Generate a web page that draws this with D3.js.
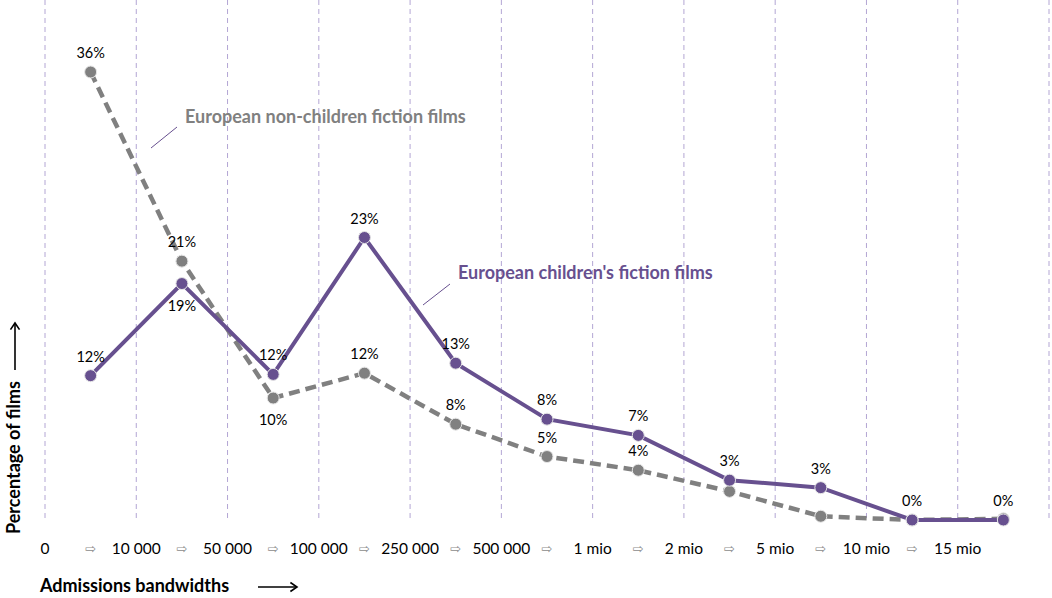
<!DOCTYPE html>
<html>
<head>
  <title>Admissions bandwidths</title>
  <script src="https://d3js.org/d3.v7.min.js"></script>
  <style type="text/css">
    body { margin: 0; background: #fff; }
    svg { font-family: Lato, "Noto Sans", sans-serif; }
  </style>
</head>
<body>
  <div id="chart"></div>
  <script type="text/javascript">
    // data
    var bandwidths = ["0", "10 000", "50 000", "100 000", "250 000", "500 000",
      "1 mio", "2 mio", "5 mio", "10 mio", "15 mio"];
    var childrenFilms = [11.6, 19.0, 11.7, 22.7, 12.6, 8.1, 6.8, 3.2, 2.6, 0.0, 0.0];
    var nonChildrenFilms = [36.0, 20.8, 9.8, 11.8, 7.7, 5.1, 4.0, 2.3, 0.3, 0.0, 0.1];
    var childrenLabels = ["12%", "19%", "12%", "23%", "13%", "8%", "7%", "3%", "3%", "0%", "0%"];
    var nonChildrenLabels = ["36%", "21%", "10%", "12%", "8%", "5%", "4%", "", "", "", ""];

    var purple = "#67508f", grey = "#808080";
    var width = 1052, height = 598;
    var plot = { left: 45, right: 1049, top: 0, bottom: 520 };

    var svg = d3.select("#chart").append("svg")
      .attr("width", width)
      .attr("height", height);

    var idx = d3.range(bandwidths.length);
    var x = d3.scaleBand()
      .domain(idx)
      .range([plot.left, plot.right]);
    var y = d3.scaleLinear()
      .domain([0, 36])
      .range([plot.bottom, 72]);

    // vertical dashed grid lines at every band edge
    var edges = idx.map(function (i) { return x(i); }).concat([x(idx.length - 1) + x.bandwidth()]);
    svg.append("g").selectAll("line")
      .data(edges)
      .enter().append("line")
      .attr("x1", function (d) { return d; })
      .attr("x2", function (d) { return d; })
      .attr("y1", plot.top)
      .attr("y2", plot.bottom + 2)
      .attr("stroke", "#b3a6d4")
      .attr("stroke-width", 1)
      .attr("stroke-dasharray", "5,4");

    // x labels: bandwidth limits at the edges, arrows in between
    svg.append("g").selectAll("text")
      .data(bandwidths)
      .enter().append("text")
      .attr("x", function (d, i) { return x(i); })
      .attr("y", 554)
      .attr("text-anchor", "middle")
      .attr("font-size", 15.5)
      .attr("fill", "#000")
      .text(function (d) { return d; });

    svg.append("g").selectAll("text")
      .data(idx.slice(0, idx.length - 1))
      .enter().append("text")
      .attr("x", function (i) { return x(i) + x.bandwidth() / 2; })
      .attr("y", 553)
      .attr("text-anchor", "middle")
      .attr("font-size", 13)
      .attr("fill", "#8c8c8c")
      .attr("font-family", "DejaVu Sans")
      .text("\u21E8");

    var line = d3.line()
      .x(function (d, i) { return x(i) + x.bandwidth() / 2; })
      .y(function (d) { return y(d); });

    // non-children series (dashed grey)
    svg.append("path")
      .datum(nonChildrenFilms)
      .attr("d", line)
      .attr("fill", "none")
      .attr("stroke", grey)
      .attr("stroke-width", 4.5)
      .attr("stroke-dasharray", "11,6");

    // children series (solid purple)
    svg.append("path")
      .datum(childrenFilms)
      .attr("d", line)
      .attr("fill", "none")
      .attr("stroke", purple)
      .attr("stroke-width", 4);

    function drawMarkers(values, color) {
      svg.append("g").selectAll("circle")
        .data(values)
        .enter().append("circle")
        .attr("cx", function (d, i) { return x(i) + x.bandwidth() / 2; })
        .attr("cy", function (d) { return y(d); })
        .attr("r", 6)
        .attr("fill", color)
        .attr("stroke", "#e6e6e6")
        .attr("stroke-width", 1);
    }
    drawMarkers(nonChildrenFilms, grey);
    drawMarkers(childrenFilms, purple);

    // value labels; a few sit below the point so they don't collide
    var nonBelow = [2];
    var childBelow = [1];
    function drawLabels(values, labels, below) {
      svg.append("g").selectAll("text")
        .data(values)
        .enter().append("text")
        .attr("x", function (d, i) { return x(i) + x.bandwidth() / 2; })
        .attr("y", function (d, i) { return below.indexOf(i) >= 0 ? y(d) + 27 : y(d) - 14; })
        .attr("text-anchor", "middle")
        .attr("font-size", 14.5)
        .attr("fill", "#000")
        .text(function (d, i) { return labels[i]; });
    }
    drawLabels(nonChildrenFilms, nonChildrenLabels, nonBelow);
    drawLabels(childrenFilms, childrenLabels, childBelow);

    // series names with short leader lines
    svg.append("line")
      .attr("x1", 151).attr("y1", 148).attr("x2", 177).attr("y2", 127)
      .attr("stroke", purple).attr("stroke-width", 1);
    svg.append("text")
      .attr("x", 185).attr("y", 123)
      .attr("font-size", 18).attr("font-weight", "bold")
      .attr("fill", grey)
      .text("European non-children fiction films");

    svg.append("line")
      .attr("x1", 423).attr("y1", 305).attr("x2", 450).attr("y2", 284)
      .attr("stroke", purple).attr("stroke-width", 1);
    svg.append("text")
      .attr("x", 458).attr("y", 279)
      .attr("font-size", 18).attr("font-weight", "bold")
      .attr("fill", purple)
      .text("European children's fiction films");

    // axis titles with hand-drawn arrows
    svg.append("text")
      .attr("x", 40).attr("y", 592)
      .attr("font-size", 18).attr("font-weight", "bold")
      .text("Admissions bandwidths");

    function arrow(x1, y1, x2, y2) {
      var g = svg.append("g").attr("stroke", "#000").attr("fill", "none")
        .attr("stroke-width", 1.6);
      g.append("line").attr("x1", x1).attr("y1", y1).attr("x2", x2).attr("y2", y2);
      var a = Math.atan2(y2 - y1, x2 - x1), h = 8;
      g.append("path").attr("d",
        "M" + (x2 - h * Math.cos(a - 0.6)) + "," + (y2 - h * Math.sin(a - 0.6)) +
        "L" + x2 + "," + y2 +
        "L" + (x2 - h * Math.cos(a + 0.6)) + "," + (y2 - h * Math.sin(a + 0.6)));
    }
    arrow(258, 587, 297, 587);

    svg.append("text")
      .attr("transform", "translate(20,534) rotate(-90)")
      .attr("font-size", 18).attr("font-weight", "bold")
      .text("Percentage of films");
    arrow(15, 370, 15, 323);
  </script>
</body>
</html>
